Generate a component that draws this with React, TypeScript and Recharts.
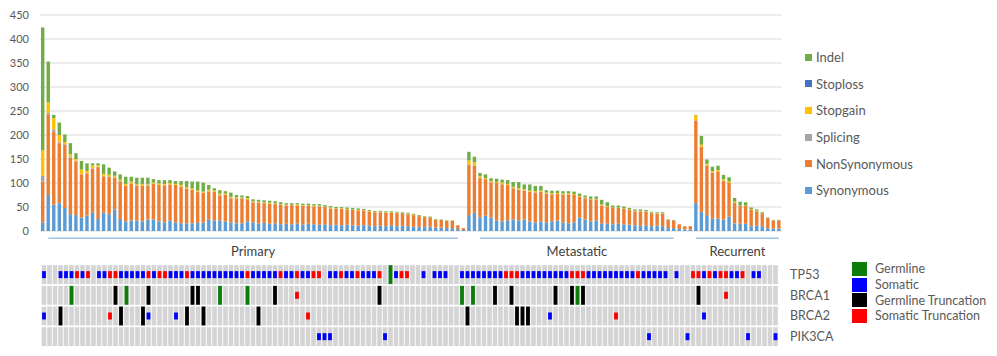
import React from 'react'
import { BarChart, Bar, XAxis, YAxis, CartesianGrid, Legend, ReferenceLine } from 'recharts'

const FONT = 'Lato, "Open Sans", Arial, sans-serif'

const groupNames = ['Primary', 'Metastatic', 'Recurrent']
const groupSizes = [77, 41, 16]
// first / last sample (within the group) covered by the group bracket
const groupSpans = [
  [2, 76],
  [3, 38],
  [1, 16],
]

const yTicks = [0, 50, 100, 150, 200, 250, 300, 350, 400, 450]

const synonymous = [
  // Primary
  18, 75, 55, 58, 48, 35, 33, 28, 32, 38, 25, 38, 35, 45, 25, 20, 22, 22, 20, 24,
  24, 20, 18, 22, 18, 16, 16, 16, 17, 18, 24, 22, 22, 20, 18, 16, 16, 20, 18, 16,
  17, 15, 16, 14, 15, 14, 16, 13, 15, 14, 13, 14, 12, 13, 12, 13, 12, 11, 12, 11,
  10, 11, 10, 12, 10, 11, 10, 9, 9, 8, 9, 7, 7, 6, 6, 4, 2,
  // Metastatic
  33, 38, 28, 32, 28, 22, 20, 22, 24, 22, 24, 20, 18, 20, 18, 20, 22, 18, 16, 18,
  28, 24, 20, 22, 16, 15, 14, 16, 14, 13, 12, 11, 12, 10, 11, 10, 6, 6, 4, 3, 3,
  // Recurrent
  58, 40, 33, 26, 26, 24, 30, 16, 15, 15, 10, 11, 10, 6, 5, 5,
]

const nonSynonymous = [
  85, 168, 152, 125, 132, 118, 112, 90, 88, 92, 108, 76, 78, 66, 78, 74, 76, 72, 75, 70,
  74, 76, 77, 74, 78, 76, 72, 70, 64, 62, 58, 60, 52, 56, 50, 52, 52, 46, 42, 43,
  41, 42, 40, 41, 38, 40, 37, 39, 38, 37, 38, 36, 35, 33, 34, 32, 32, 32, 31, 30,
  29, 28, 28, 26, 27, 26, 25, 24, 22, 21, 19, 16, 16, 15, 15, 8, 4,
  105, 98, 82, 76, 73, 78, 77, 74, 65, 64, 60, 62, 62, 62, 60, 56, 55, 58, 60, 57,
  44, 44, 46, 44, 36, 36, 34, 32, 32, 31, 29, 30, 28, 27, 25, 26, 17, 16, 10, 7, 7,
  172, 135, 103, 95, 98, 80, 70, 43, 37, 37, 34, 30, 27, 21, 17, 17,
]

const splicing = [
  12, 3, 5, 2, 1, 2, 1, 1, 1, 1, 1, 1, 1, 1, 1, 1, 1, 1, 0, 1,
  1, 0, 1, 1, 0, 1, 1, 0, 1, 0, 1, 0, 1, 0, 1, 0, 1, 0, 1, 0,
  1, 0, 1, 0, 1, 0, 0, 1, 0, 0, 1, 0, 0, 0, 1, 0, 0, 0, 0, 0,
  0, 0, 0, 0, 0, 0, 0, 0, 0, 0, 0, 0, 0, 0, 0, 0, 0,
  1, 1, 1, 0, 1, 0, 1, 0, 1, 0, 1, 0, 1, 0, 0, 1, 0, 0, 1, 0,
  0, 1, 0, 0, 1, 0, 0, 0, 0, 0, 0, 0, 0, 0, 0, 0, 0, 0, 0, 0, 0,
  1, 1, 1, 1, 0, 1, 0, 0, 0, 0, 0, 0, 0, 0, 0, 0,
]

const stopgain = [
  53, 22, 23, 15, 4, 5, 4, 9, 4, 6, 3, 4, 3, 3, 3, 3, 4, 2, 3, 2,
  2, 3, 2, 3, 2, 3, 2, 3, 2, 2, 3, 2, 3, 2, 2, 2, 1, 2, 1, 2,
  1, 2, 1, 1, 1, 1, 2, 1, 1, 2, 1, 1, 2, 1, 1, 1, 1, 1, 1, 1,
  1, 1, 1, 1, 1, 0, 1, 1, 0, 1, 0, 1, 0, 0, 0, 0, 0,
  8, 6, 3, 2, 2, 2, 3, 2, 2, 3, 2, 2, 2, 2, 2, 2, 2, 2, 2, 2,
  1, 1, 1, 1, 2, 1, 1, 1, 1, 1, 1, 1, 1, 1, 1, 1, 0, 0, 0, 0, 0,
  10, 4, 3, 3, 3, 3, 3, 2, 1, 1, 1, 1, 0, 0, 0, 0,
]

const stoploss = [
  0, 0, 0, 0, 0, 0, 0, 0, 0, 0, 0, 0, 0, 0, 0, 0, 0, 0, 0, 0,
  0, 0, 0, 0, 0, 0, 0, 0, 0, 0, 0, 0, 0, 0, 0, 0, 0, 0, 0, 0,
  0, 0, 0, 0, 0, 0, 0, 0, 0, 0, 0, 0, 0, 0, 0, 0, 0, 0, 0, 0,
  0, 0, 0, 0, 0, 0, 0, 0, 0, 0, 0, 0, 0, 0, 0, 0, 0,
  0, 0, 0, 0, 0, 0, 0, 0, 0, 0, 0, 0, 0, 0, 0, 0, 0, 0, 0, 0,
  0, 0, 0, 0, 0, 0, 0, 0, 0, 0, 0, 0, 0, 0, 0, 0, 0, 0, 0, 0, 0,
  0, 0, 0, 0, 0, 0, 0, 0, 0, 0, 0, 0, 0, 0, 0, 0,
]

const indel = [
  256, 85, 7, 26, 16, 23, 12, 18, 16, 4, 4, 20, 15, 9, 11, 15, 10, 14, 13, 14,
  7, 7, 8, 6, 6, 8, 13, 14, 19, 19, 10, 5, 7, 5, 9, 5, 4, 5, 4, 4,
  4, 4, 4, 4, 3, 3, 3, 3, 3, 3, 3, 3, 3, 3, 2, 3, 3, 3, 2, 2,
  2, 2, 2, 2, 2, 2, 2, 2, 2, 1, 2, 1, 1, 1, 1, 0, 0,
  18, 12, 7, 8, 6, 7, 6, 8, 10, 13, 10, 13, 11, 10, 5, 5, 5, 5, 4, 5,
  5, 4, 5, 5, 10, 8, 4, 4, 4, 3, 3, 3, 3, 2, 2, 2, 1, 1, 0, 0, 0,
  1, 18, 9, 9, 9, 9, 9, 8, 8, 7, 4, 3, 2, 1, 1, 1,
]

// mutation calls per gene, as 1-based sample positions
const tp53Calls = {
  somatic: [1, 4, 5, 6, 8, 11, 12, 15, 16, 17, 18, 19, 21, 24, 25, 26, 28, 29, 30, 31, 32, 33, 34, 35, 36, 37,
    39, 40, 41, 42, 43, 45, 46, 48, 49, 53, 54, 56, 57, 59, 60, 61, 65, 70, 72, 73, 74, 77, 78, 79, 80, 81, 82, 83, 84,
    88, 89, 90, 91, 92, 93, 94, 95, 96, 100, 101, 102, 103, 104, 105, 106, 107, 108, 110, 111, 112, 113, 114, 116,
    121, 123, 126, 127, 130, 131],
  somaticTrunc: [7, 9, 13, 14, 20, 22, 23, 27, 38, 44, 47, 50, 51, 55, 58, 62, 66, 67, 85, 86, 87, 97, 98, 99, 109,
    119, 120, 122, 124, 125, 128],
  germline: [64],
  germlineTrunc: [] as number[],
}
const brca1Calls = {
  somatic: [] as number[],
  somaticTrunc: [47, 125],
  germline: [6, 16, 33, 38, 77, 79, 98],
  germlineTrunc: [14, 20, 28, 29, 43, 62, 83, 86, 94, 97, 99, 120],
}
const brca2Calls = {
  somatic: [1, 20, 25, 93, 121],
  somaticTrunc: [13, 49, 105],
  germline: [] as number[],
  germlineTrunc: [4, 15, 19, 27, 30, 40, 78, 87, 88, 89],
}
const pik3caCalls = {
  somatic: [51, 52, 53, 63, 111, 118, 129, 134],
  somaticTrunc: [] as number[],
  germline: [] as number[],
  germlineTrunc: [] as number[],
}

type Status = 'none' | 'germline' | 'somatic' | 'germlineTrunc' | 'somaticTrunc'

const series = [
  { key: 'synonymous', name: 'Synonymous', color: '#5B9BD5', values: synonymous },
  { key: 'nonSynonymous', name: 'NonSynonymous', color: '#ED7D31', values: nonSynonymous },
  { key: 'splicing', name: 'Splicing', color: '#A5A5A5', values: splicing },
  { key: 'stopgain', name: 'Stopgain', color: '#FFC000', values: stopgain },
  { key: 'stoploss', name: 'Stoploss', color: '#4472C4', values: stoploss },
  { key: 'indel', name: 'Indel', color: '#70AD47', values: indel },
]

// bottom row first, as stacked
const genes = [
  { name: 'PIK3CA', calls: pik3caCalls },
  { name: 'BRCA2', calls: brca2Calls },
  { name: 'BRCA1', calls: brca1Calls },
  { name: 'TP53', calls: tp53Calls },
]

const heatLegend: { status: Status; label: string; color: string }[] = [
  { status: 'germline', label: 'Germline', color: '#0B7D0B' },
  { status: 'somatic', label: 'Somatic', color: '#0000FF' },
  { status: 'germlineTrunc', label: 'Germline Truncation', color: '#000000' },
  { status: 'somaticTrunc', label: 'Somatic Truncation', color: '#FF0000' },
]
const statusColor: Record<string, string> = {}
heatLegend.forEach((h) => (statusColor[h.status] = h.color))

const sampleIds: string[] = []
groupNames.forEach((g, gi) => {
  for (let k = 1; k <= groupSizes[gi]; k++) sampleIds.push(`${g[0]}${k}`)
})

const mainData = sampleIds.map((id, i) => {
  const row: Record<string, string | number> = { id }
  series.forEach((s) => (row[s.key] = s.values[i]))
  return row
})

const statusAt = (calls: typeof tp53Calls, pos: number): Status => {
  if (calls.germline.includes(pos)) return 'germline'
  if (calls.germlineTrunc.includes(pos)) return 'germlineTrunc'
  if (calls.somaticTrunc.includes(pos)) return 'somaticTrunc'
  if (calls.somatic.includes(pos)) return 'somatic'
  return 'none'
}

const heatData = sampleIds.map((id, i) => {
  const row: Record<string, string | number> = { id, cell: 1 }
  genes.forEach((g) => (row[g.name] = statusAt(g.calls, i + 1)))
  return row
})

const makeCell = (gene: string) => (props: any) => {
  const { x, y, width, height, payload } = props
  const status = payload[gene] as Status
  const top = y + 0.9
  const h = height - 1.8
  const mw = 3.8
  const mx = x + (width - mw) / 2
  let mark = null
  if (status === 'germline' || status === 'germlineTrunc') {
    mark = <rect x={mx} y={top} width={mw} height={h} fill={statusColor[status]} />
  } else if (status === 'somatic' || status === 'somaticTrunc') {
    mark = <rect x={mx} y={y + height / 2 - 3.5} width={mw} height={7} fill={statusColor[status]} />
  }
  return (
    <g>
      <rect x={x} y={top} width={width} height={h} fill="#D4D4D4" />
      {mark}
    </g>
  )
}

const MainLegend = () => (
  <div style={{ fontFamily: FONT, fontSize: 13, color: '#595959' }}>
    {[...series].reverse().map((s) => (
      <div key={s.key} style={{ display: 'flex', alignItems: 'center', height: 26.6, whiteSpace: 'nowrap' }}>
        <span style={{ display: 'inline-block', width: 7, height: 7, background: s.color, marginRight: 4 }} />
        {s.name}
      </div>
    ))}
  </div>
)

const HeatLegend = () => (
  <div style={{ fontFamily: FONT, fontSize: 12.5, color: '#595959' }}>
    {heatLegend.map((h) => (
      <div key={h.status} style={{ display: 'flex', alignItems: 'center', height: 15.7, whiteSpace: 'nowrap' }}>
        <span style={{ display: 'inline-block', width: 15, height: 14, background: h.color, marginRight: 8 }} />
        {h.label}
      </div>
    ))}
  </div>
)

const App: React.FC = () => {
  return (
    <div style={{ position: 'absolute', left: 0, top: 0, width: 997, height: 356, background: '#fff' }}>
      <div style={{ position: 'absolute', left: 0, top: 0 }}>
        <BarChart
          width={997}
          height={262}
          data={mainData}
          barSize={3.4}
          margin={{ top: 15, right: 215.3, bottom: 31, left: 1 }}
        >
          <CartesianGrid vertical={false} stroke="#D9D9D9" />
          <XAxis dataKey="id" hide />
          <YAxis
            width={39}
            domain={[0, 450]}
            ticks={yTicks}
            axisLine={false}
            tickLine={false}
            tickSize={0}
            tickMargin={11}
            tick={{ fill: '#595959', fontSize: 11, fontFamily: FONT }}
          />
          {series.map((s) => (
            <Bar key={s.key} dataKey={s.key} name={s.name} stackId="a" fill={s.color} isAnimationActive={false} />
          ))}
          {groupNames.map((g, gi) => (
            <ReferenceLine
              key={g}
              segment={[
                { x: `${g[0]}${groupSpans[gi][0]}`, y: -15.2 },
                { x: `${g[0]}${groupSpans[gi][1]}`, y: -15.2 },
              ]}
              stroke="#9DC3E6"
              strokeWidth={1.5}
              ifOverflow="visible"
              label={{ value: g, position: 'bottom', offset: 8.5, fill: '#404040', fontSize: 13, fontFamily: FONT }}
            />
          ))}
          <Legend
            layout="vertical"
            align="center"
            verticalAlign="middle"
            wrapperStyle={{ left: 805, top: 44, width: 160 }}
            content={() => <MainLegend />}
          />
        </BarChart>
      </div>
      <div style={{ position: 'absolute', left: 0, top: 262 }}>
        <BarChart
          width={997}
          height={94}
          data={heatData}
          barSize={4.6}
          margin={{ top: 2.3, right: 158.3, bottom: 9, left: 41.7 }}
        >
          <XAxis dataKey="id" hide />
          <YAxis
            orientation="right"
            width={60}
            domain={[0, 4]}
            ticks={[0.5, 1.5, 2.5, 3.5]}
            interval={0}
            axisLine={false}
            tickLine={false}
            tickSize={0}
            tickMargin={11.3}
            tickFormatter={(v: number) => genes[Math.floor(v)].name}
            tick={{ fill: '#595959', fontSize: 12.5, fontFamily: FONT }}
          />
          {genes.map((g) => (
            <Bar key={g.name} dataKey="cell" stackId="h" shape={makeCell(g.name)} isAnimationActive={false} />
          ))}
          <Legend
            layout="vertical"
            align="center"
            verticalAlign="middle"
            wrapperStyle={{ left: 852, top: -1, width: 145 }}
            content={() => <HeatLegend />}
          />
        </BarChart>
      </div>
    </div>
  )
}

export default App
